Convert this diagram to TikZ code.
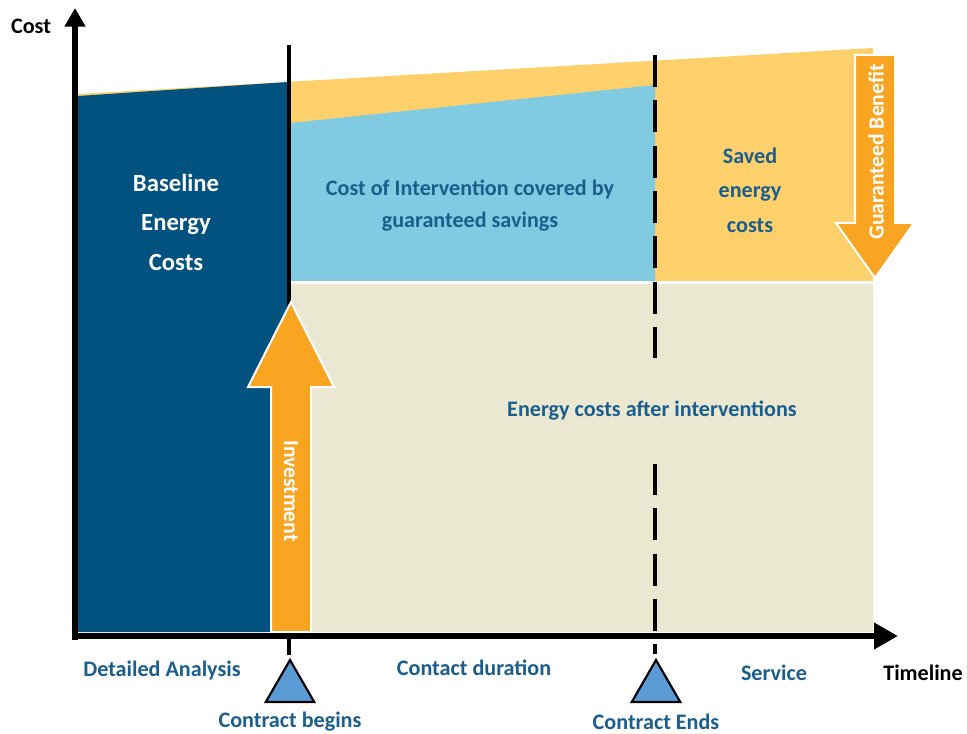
\documentclass[tikz,border=0pt]{standalone}
\usepackage{fontspec}
\setmainfont{Carlito}
\usetikzlibrary{arrows.meta,shapes.geometric}
\definecolor{baseblue}{HTML}{02527F}
\definecolor{interblue}{HTML}{80CBE1}
\definecolor{savedyellow}{HTML}{FED06B}
\definecolor{afterbeige}{HTML}{EBE8D2}
\definecolor{arroworange}{HTML}{F9A521}
\definecolor{labelblue}{HTML}{1B5E8D}
\definecolor{markblue}{HTML}{5B9BD5}
\begin{document}
\begin{tikzpicture}[
			x=0.75pt, y=-0.75pt,
			every node/.style={font=\bfseries\fontsize{16.6}{24}\selectfont, text=labelblue, inner sep=0pt},
			big/.style={font=\bfseries\fontsize{18.5}{29.6}\selectfont, text=white},
			milestone/.style={draw=black, line width=1.6pt, fill=markblue, regular polygon, regular polygon sides=3, minimum size=42pt},
			bigarrow/.style={fill=arroworange, draw=white, line width=1.5pt},
		]
		\useasboundingbox (0,0) rectangle (967,734);

		\fill[savedyellow] (78,94) -- (873,48) -- (873,281) -- (290,281) -- (290,300) -- (78,300) -- cycle;
		\fill[baseblue] (78,96) -- (288,82) -- (288,632) -- (78,632) -- cycle;
		\fill[interblue] (290,123) -- (655,85) -- (655,281) -- (290,281) -- cycle;
		\fill[afterbeige] (290,284) rectangle (873,632);

		\node[big, align=center] (baseline) at (176,222) {Baseline\\Energy\\Costs};
		\node[align=center] (intervention) at (470,206) {Cost of Intervention covered by\\guaranteed savings};
		\node[align=center, font=\bfseries\fontsize{16.6}{26}\selectfont] (saved) at (750,190) {Saved\\energy\\costs};

		\node[milestone] (begins) at (290,688) {};
		\node[milestone] (ends) at (656,688) {};

		\draw[line width=3pt] (289,45) -- (289,655);
		\draw[line width=3pt, dash pattern=on 24pt off 10pt] (655,55) -- (655,654);

		\node[fill=afterbeige, minimum height=79pt, inner xsep=3pt] (after) at (652,411) {Energy costs after interventions};

		\filldraw[bigarrow] (271,632) -- (271,387) -- (248,387) -- (291,302) -- (334,387) -- (311,387) -- (311,632) -- cycle;
		\node[big, rotate=-90, font=\bfseries\fontsize{16.2}{20}\selectfont] (invest) at (291,491) {Investment};

		\filldraw[bigarrow] (855,55) -- (895,55) -- (895,223) -- (914,223) -- (875,278) -- (836,223) -- (855,223) -- cycle;
		\node[big, rotate=90, font=\bfseries\fontsize{16.2}{20}\selectfont] (benefit) at (876,152) {Guaranteed Benefit};

		\draw[line width=4.5pt, -{Triangle[length=14pt, width=15pt]}] (75,640) -- (75,8);
		\draw[line width=4.5pt, -{Triangle[length=18pt, width=19pt]}] (72,636) -- (898,636);

		\node[text=black] (cost) at (31,26) {Cost};
		\node[text=black] (timeline) at (923,673) {Timeline};
		\node (analysis) at (162,670) {Detailed Analysis};
		\node (duration) at (474,668) {Contact duration};
		\node (service) at (774,673) {Service};
		\node (beginlabel) at (290,722) {Contract begins};
		\node (endlabel) at (656,722) {Contract Ends};
	\end{tikzpicture}
\end{document}
